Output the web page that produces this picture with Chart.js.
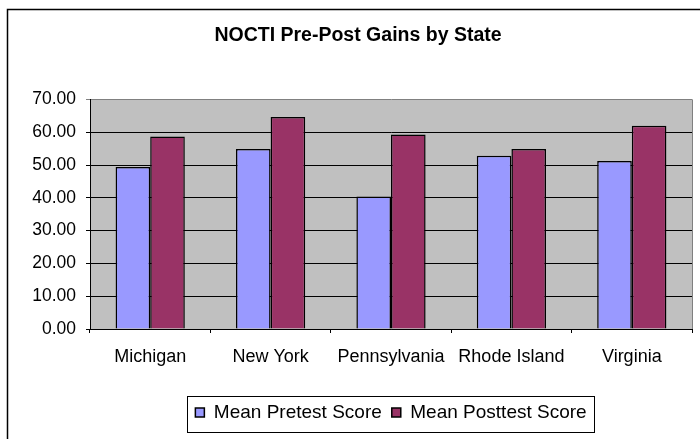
<!DOCTYPE html>
<html>
<head>
<meta charset="utf-8">
<script src="https://cdn.jsdelivr.net/npm/chart.js@4.4.0/dist/chart.umd.min.js"></script>
<style>
  html, body { margin:0; padding:0; background:#fff; }
  #box { position:relative; width:700px; height:439px; }
</style>
</head>
<body>
<div id="box"><canvas id="chart"></canvas></div>
<script>
// values
const states = ["Michigan", "New York", "Pennsylvania", "Rhode Island", "Virginia"];
const pretest = [49.4, 54.9, 40.4, 52.8, 51.2];
const posttest = [58.7, 64.6, 59.3, 54.9, 62.0];
const seriesNames = ["Mean Pretest Score", "Mean Posttest Score"];
const yTicks = [0, 10, 20, 30, 40, 50, 60, 70];

Chart.defaults.font.family = "'Liberation Sans', Arial, sans-serif";
Chart.defaults.color = "#000";

// grey plot area, white page, frame round the chart and the legend box
const frame = {
  id: "frame",
  beforeDraw(chart) {
    const ctx = chart.ctx, a = chart.chartArea;
    ctx.save();
    ctx.fillStyle = "#fff";
    ctx.fillRect(0, 0, chart.width, chart.height);
    ctx.fillStyle = "#c0c0c0";
    ctx.fillRect(a.left, a.top, a.right - a.left, a.bottom - a.top);
    ctx.restore();
  },
  afterDraw(chart) {
    const ctx = chart.ctx, a = chart.chartArea;
    ctx.save();
    ctx.strokeStyle = "#808080";
    ctx.lineWidth = 1;
    ctx.beginPath();
    ctx.moveTo(Math.round(a.right) + 0.5, a.top);
    ctx.lineTo(Math.round(a.right) + 0.5, a.bottom);
    ctx.stroke();

    ctx.strokeStyle = "#000";
    ctx.lineWidth = 1.5;
    ctx.strokeRect(7.5, 9.5, 700, 440);

    const hb = chart.legend.legendHitBoxes;
    if (hb && hb.length) {
      const l = Math.min(...hb.map(h => h.left)) - 8;
      const r = Math.max(...hb.map(h => h.left + h.width)) + 8;
      const t = hb[0].top - 7;
      const b = hb[0].top + hb[0].height + 10;
      ctx.lineWidth = 1;
      ctx.strokeRect(Math.round(l) + 0.5, Math.round(t) + 0.5, Math.round(r - l), Math.round(b - t));
    }
    ctx.restore();
  }
};

const chart = new Chart(document.getElementById("chart"), {
  type: "bar",
  plugins: [frame],
  data: {
    labels: states,
    datasets: [
      { label: seriesNames[0], data: pretest, backgroundColor: "#9999ff", borderColor: "#000", borderWidth: 1.5 },
      { label: seriesNames[1], data: posttest, backgroundColor: "#993366", borderColor: "#000", borderWidth: 1.5 }
    ]
  },
  options: {
    responsive: true,
    maintainAspectRatio: false,
    animation: false,
    categoryPercentage: 0.575,
    barPercentage: 1,
    layout: { padding: { left: 24, right: 8, top: 0, bottom: 7 } },
    plugins: {
      title: {
        display: true,
        text: "NOCTI Pre-Post Gains by State",
        color: "#000",
        font: { size: 19.5, weight: "bold" },
        padding: { top: 24, bottom: 52 }
      },
      legend: {
        position: "bottom",
        fullSize: false,
        labels: { boxWidth: 9, boxHeight: 9, padding: 10, color: "#000", font: { size: 19 } }
      },
      tooltip: { enabled: false }
    },
    scales: {
      x: {
        grid: { offset: true, drawOnChartArea: false, drawTicks: true, tickLength: 4, color: "#000" },
        border: { color: "#000", width: 1 },
        ticks: { font: { size: 18 }, color: "#000", padding: 13, maxRotation: 0, autoSkip: false },
        afterFit(s) { s.height = 64; }
      },
      y: {
        min: yTicks[0],
        max: yTicks[yTicks.length - 1],
        ticks: {
          stepSize: yTicks[1] - yTicks[0],
          font: { size: 17.5 },
          color: "#000",
          padding: 10,
          callback: v => v.toFixed(2)
        },
        grid: {
          color: c => (c.tick && c.tick.value === yTicks[yTicks.length - 1]) ? "#808080" : "#000",
          tickLength: 4
        },
        border: { color: "#000" },
        afterFit(s) { s.width = 66; }
      }
    }
  }
});
</script>
</body>
</html>
